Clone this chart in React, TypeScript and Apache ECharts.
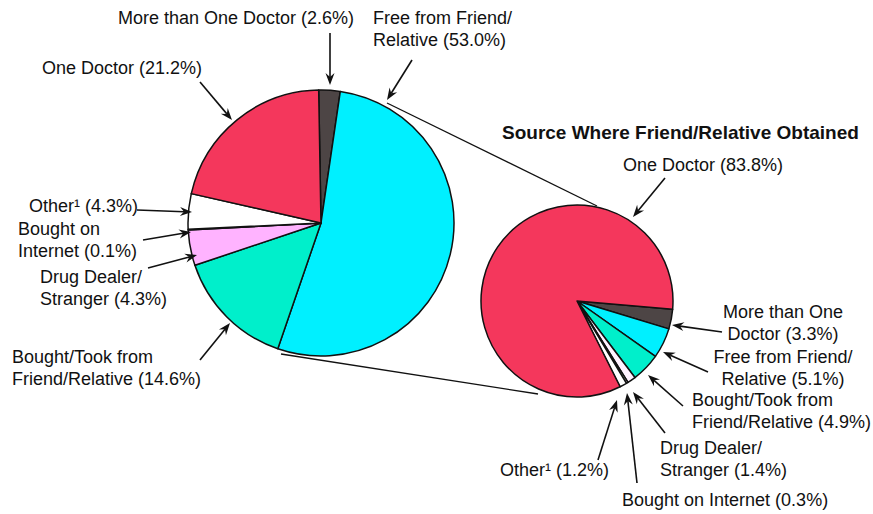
import React, { useEffect, useRef } from "react";
import * as echarts from "echarts";

// ---- Data ----
const categories = [
  "More than One Doctor",
  "Free from Friend/Relative",
  "Bought/Took from Friend/Relative",
  "Drug Dealer/Stranger",
  "Bought on Internet",
  "Other",
  "One Doctor",
];
const overallValues = [2.6, 53.0, 14.6, 4.3, 0.1, 4.3, 21.2];
const friendSourceValues = [3.3, 5.1, 4.9, 1.4, 0.3, 1.2, 83.8];
const leftColors = ["#4d4545", "#00f0ff", "#00efcb", "#ffb3ff", "#ffffff", "#ffffff", "#f4375c"];
const rightColors = ["#4d4545", "#00f0ff", "#00efcb", "#fff2ff", "#ffffff", "#ffffff", "#f4375c"];

const leftLabels = [
  "More than One Doctor (2.6%)",
  "Free from Friend/\nRelative (53.0%)",
  "Bought/Took from\nFriend/Relative (14.6%)",
  "Drug Dealer/\nStranger (4.3%)",
  "Bought on\nInternet (0.1%)",
  "Other¹ (4.3%)",
  "One Doctor (21.2%)",
];
const rightLabels = [
  "More than One\nDoctor (3.3%)",
  "Free from Friend/\nRelative (5.1%)",
  "Bought/Took from\nFriend/Relative (4.9%)",
  "Drug Dealer/\nStranger (1.4%)",
  "Bought on Internet (0.3%)",
  "Other¹ (1.2%)",
  "One Doctor (83.8%)",
];
const rightTitle = "Source Where Friend/Relative Obtained";

// ---- Layout (annotation positions) ----
const LEFT = { cx: 321, cy: 223, r: 133 };
const RIGHT = { cx: 577, cy: 301, r: 96 };
// [x, yTop, align] for each label
const leftLabelPos: [number, number, string][] = [
  [118, 7, "left"],
  [373, 7, "left"],
  [12, 346, "left"],
  [40, 266, "left"],
  [18, 218, "left"],
  [29, 195, "left"],
  [42, 57, "left"],
];
const rightLabelPos: [number, number, string][] = [
  [783, 301, "center"],
  [783, 346, "center"],
  [692, 389, "left"],
  [660, 437, "left"],
  [622, 489, "left"],
  [500, 459, "left"],
  [623, 154, "left"],
];
// arrows: [x1, y1, xTip, yTip]
const leftArrows = [
  [330, 33, 330, 85],
  [412, 60, 387, 100],
  [200, 360, 230, 323],
  [148, 268, 197, 255],
  [143, 240, 191, 232],
  [137, 210, 192, 212],
  [200, 82, 232, 120],
];
const rightArrows = [
  [722, 332, 672, 325],
  [708, 372, 663, 352],
  [683, 406, 648, 375],
  [665, 433, 633, 392],
  [637, 483, 627, 393],
  [598, 460, 617, 400],
  [665, 178, 633, 217],
];
const connectors = [
  [387, 103, 597, 206],
  [281, 354, 538, 394],
];

const FONT = '18px "Liberation Sans", Arial, sans-serif';

function arrow(a: number[]) {
  const [x1, y1, x2, y2] = a;
  const dx = x2 - x1;
  const dy = y2 - y1;
  const len = Math.sqrt(dx * dx + dy * dy);
  const ux = dx / len;
  const uy = dy / len;
  const px = -uy;
  const py = ux;
  const L = 12;
  const W = 4.5;
  const N = 8;
  const bx = x2 - ux * L;
  const by = y2 - uy * L;
  const nx = x2 - ux * N;
  const ny = y2 - uy * N;
  return [
    {
      type: "line",
      z: 10,
      silent: true,
      shape: { x1, y1, x2: nx, y2: ny },
      style: { stroke: "#111", lineWidth: 1.6 },
    },
    {
      type: "polygon",
      z: 10,
      silent: true,
      shape: {
        points: [
          [x2, y2],
          [bx + px * W, by + py * W],
          [nx, ny],
          [bx - px * W, by - py * W],
        ],
      },
      style: { fill: "#111" },
    },
  ];
}

function label(text: string, pos: [number, number, string], bold = false) {
  return {
    type: "text",
    z: 10,
    silent: true,
    x: pos[0],
    y: pos[1],
    style: {
      text,
      fill: "#111",
      font: bold ? 'bold 19px "Liberation Sans", Arial, sans-serif' : FONT,
      textAlign: pos[2],
      textVerticalAlign: "top",
      lineHeight: 22,
    },
  };
}

export default function App() {
  const ref = useRef<HTMLDivElement>(null);
  useEffect(() => {
    if (!ref.current) return;
    const chart = echarts.init(ref.current, undefined, { renderer: "svg" });
    const mk = (vals: number[], colors: string[]) =>
      categories.map((c, i) => ({
        name: c,
        value: vals[i],
        itemStyle: { color: colors[i] },
      }));
    const graphics: any[] = [];
    connectors.forEach((c) =>
      graphics.push({
        type: "line",
        z: 1,
        silent: true,
        shape: { x1: c[0], y1: c[1], x2: c[2], y2: c[3] },
        style: { stroke: "#111", lineWidth: 1.3 },
      })
    );
    leftArrows.forEach((a) => graphics.push(...arrow(a)));
    rightArrows.forEach((a) => graphics.push(...arrow(a)));
    leftLabels.forEach((t, i) => graphics.push(label(t, leftLabelPos[i])));
    rightLabels.forEach((t, i) => graphics.push(label(t, rightLabelPos[i])));
    graphics.push(label(rightTitle, [502, 121, "left"], true));

    chart.setOption({
      animation: false,
      backgroundColor: "#ffffff",
      series: [
        {
          type: "pie",
          center: [LEFT.cx, LEFT.cy],
          radius: LEFT.r,
          startAngle: 91,
          clockwise: true,
          silent: true,
          label: { show: false },
          labelLine: { show: false },
          emphasis: { disabled: true },
          itemStyle: { borderColor: "#111", borderWidth: 1.5 },
          data: mk(overallValues, leftColors),
        },
        {
          type: "pie",
          center: [RIGHT.cx, RIGHT.cy],
          radius: RIGHT.r,
          startAngle: -5,
          clockwise: true,
          silent: true,
          label: { show: false },
          labelLine: { show: false },
          emphasis: { disabled: true },
          itemStyle: { borderColor: "#111", borderWidth: 1.5 },
          data: mk(friendSourceValues, rightColors),
        },
      ],
      graphic: graphics,
    });
    return () => chart.dispose();
  }, []);
  return (
    <div
      ref={ref}
      style={{ position: "fixed", left: 0, top: 0, width: 873, height: 514 }}
    />
  );
}
